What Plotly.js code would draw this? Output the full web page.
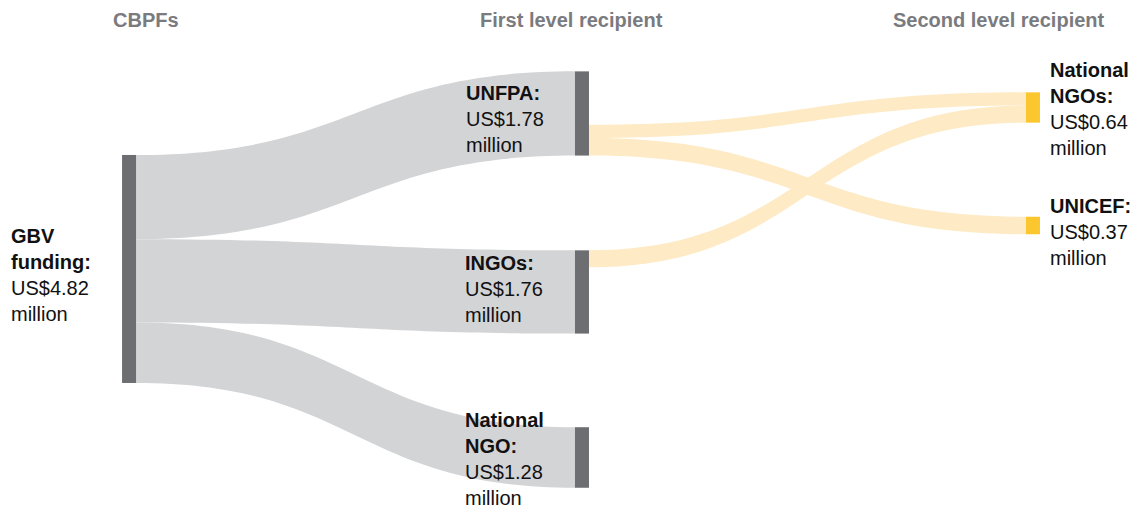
<!DOCTYPE html>
<html>
<head>
<meta charset="utf-8">
<script src="https://cdn.plot.ly/plotly-3.0.1.min.js"></script>
<style>html,body{margin:0;padding:0;background:#fff;}#chart{width:1138px;height:508px;}</style>
</head>
<body>
<div id="chart"></div>
<script>
// ---- data ----
const columnTitles = ['CBPFs', 'First level recipient', 'Second level recipient'];
const nodeNames = ['GBV funding', 'UNFPA', 'INGOs', 'National NGO', 'National NGOs', 'UNICEF', ''];
const nodeValues = [4.82, 1.78, 1.76, 1.28, 0.64, 0.37, null]; // US$ million (last = hidden remainder)
const linkSources = [0, 0, 0, 1, 1, 2, 1];
const linkTargets = [1, 2, 3, 4, 5, 4, 6];
const linkValues  = [1.78, 1.76, 1.28, 0.28, 0.37, 0.36, 1.13]; // last: UNFPA funds not passed on (hidden)

// ---- layout / style ----
const W = 1138, H = 508, MT = 70, MB = 20;
const PH = H - MT - MB;
const nodeX = [0.1134, 0.5114, 0.5114, 0.5114, 0.9077, 0.9077, 0.9077];
const nodeY = [0.476, 0.104, 0.531, 0.927, 0.0897, 0.372, 0.001];
const nodeColors = ['#6d6e71', '#6d6e71', '#6d6e71', '#6d6e71', '#fcc62e', '#fcc62e', 'rgba(0,0,0,0)'];
const linkColors = linkTargets.map((t, i) => t === 6 ? 'rgba(0,0,0,0)' : (linkSources[i] === 0 ? '#d3d4d6' : '#feeac4'));

const FONT = 'Liberation Sans, Arial, Helvetica, sans-serif';
const px2x = px => px / W;
const px2y = py => 1 - (py - MT) / PH;

// label anchors (left x, top y in pixels)
const labelPos = [[9, 223], [464, 80], [463, 250], [463, 407], [1048, 57], [1048, 193]];
const annotations = [];
labelPos.forEach((p, i) => {
  const name = nodeNames[i].replace(' ', '<br>');
  annotations.push({
    xref: 'paper', yref: 'paper', x: px2x(p[0]), y: px2y(p[1]),
    xanchor: 'left', yanchor: 'top', align: 'left', showarrow: false,
    text: '<b>' + name + ':</b><br>US$' + nodeValues[i].toFixed(2) + '<br>million',
    font: {family: FONT, size: 20, color: '#111111'}
  });
});
const titleX = [145.5, 571, 998.5];
columnTitles.forEach((t, i) => {
  annotations.push({
    xref: 'paper', yref: 'paper', x: px2x(titleX[i]), y: px2y(7),
    xanchor: 'center', yanchor: 'top', showarrow: false,
    text: '<b>' + t + '</b>',
    font: {family: FONT, size: 20, color: '#7a7b7e'}
  });
});

const trace = {
  type: 'sankey',
  arrangement: 'fixed',
  hoverinfo: 'none',
  node: {
    label: nodeNames.map(() => ''),
    x: nodeX, y: nodeY,
    color: nodeColors,
    line: {width: 0},
    thickness: 14,
    pad: 95,
    align: 'left',
    hoverinfo: 'none'
  },
  link: {
    source: linkSources, target: linkTargets, value: linkValues,
    color: linkColors, hoverinfo: 'none', line: {width: 0}
  }
};

Plotly.newPlot('chart', [trace], {
  width: W, height: H,
  margin: {l: 0, r: 0, t: MT, b: MB},
  paper_bgcolor: '#ffffff',
  font: {family: FONT},
  annotations: annotations,
  showlegend: false
}, {displayModeBar: false, staticPlot: true});
</script>
</body>
</html>
